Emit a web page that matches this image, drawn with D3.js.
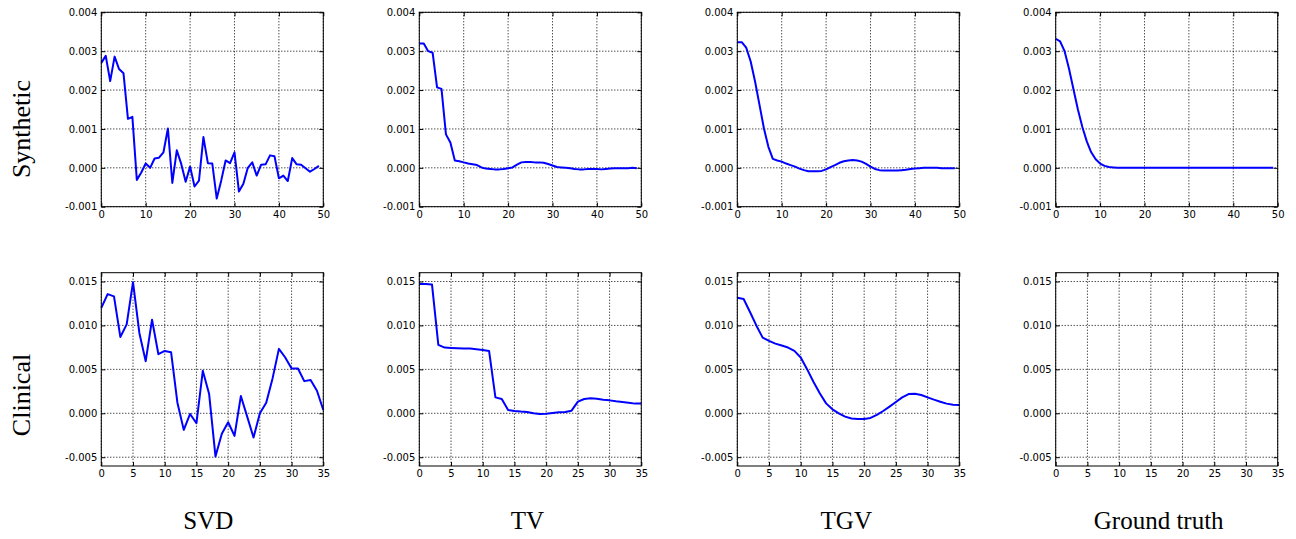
<!DOCTYPE html>
<html>
<head>
<meta charset="utf-8">
<script src="https://cdn.jsdelivr.net/npm/d3@7"></script>
<style>
  body { margin: 0; background: #fff; }
  svg { display: block; }
  .tick text { font-family: "DejaVu Sans", sans-serif; font-size: 10px; fill: #000; }
  .big { font-family: "Liberation Serif", "Times New Roman", serif; fill: #000; }
</style>
</head>
<body>
<div id="chart"></div>
<script>
// values
const methods = ["SVD", "TV", "TGV", "Ground truth"];
const rows = ["Synthetic", "Clinical"];

// synthetic row, x = 0..49, units 1e-3
const synSVD = [2.70, 2.88, 2.23, 2.86, 2.54, 2.43, 1.26, 1.31, -0.31, -0.12,
  0.11, 0.0, 0.24, 0.26, 0.40, 1.01, -0.39, 0.45, 0.10, -0.36,
  0.03, -0.48, -0.33, 0.79, 0.12, 0.11, -0.79, -0.33, 0.19, 0.12,
  0.40, -0.61, -0.41, 0.0, 0.14, -0.20, 0.08, 0.09, 0.32, 0.30,
  -0.27, -0.20, -0.34, 0.25, 0.09, 0.08, -0.01, -0.10, -0.03, 0.05];
const synTV = [3.20, 3.20, 3.00, 2.96, 2.07, 2.03, 0.86, 0.65, 0.19, 0.17,
  0.14, 0.11, 0.09, 0.07, 0.01, -0.02, -0.03, -0.04, -0.04, -0.03,
  -0.01, 0.01, 0.08, 0.14, 0.15, 0.15, 0.14, 0.14, 0.13, 0.10,
  0.06, 0.02, 0.01, 0.0, -0.01, -0.03, -0.04, -0.04, -0.03, -0.03,
  -0.03, -0.04, -0.03, -0.02, -0.01, -0.01, -0.01, -0.01, 0.0, -0.01];
const synTGV = [3.23, 3.23, 3.09, 2.74, 2.22, 1.62, 1.01, 0.54, 0.23, 0.19,
  0.16, 0.11, 0.07, 0.03, -0.02, -0.06, -0.09, -0.09, -0.09, -0.08,
  -0.04, 0.02, 0.07, 0.13, 0.17, 0.19, 0.20, 0.19, 0.16, 0.10,
  0.03, -0.03, -0.06, -0.07, -0.07, -0.07, -0.07, -0.06, -0.05, -0.03,
  -0.02, -0.01, 0.0, 0.0, 0.0, 0.0, -0.01, -0.01, -0.01, -0.01];
const synGT = [3.32, 3.25, 3.00, 2.55, 2.02, 1.50, 1.05, 0.68, 0.40, 0.22,
  0.11, 0.05, 0.02, 0.01, 0, 0, 0, 0, 0, 0,
  0, 0, 0, 0, 0, 0, 0, 0, 0, 0,
  0, 0, 0, 0, 0, 0, 0, 0, 0, 0,
  0, 0, 0, 0, 0, 0, 0, 0, 0, 0];

// clinical row, x = 0..35, units 1e-3
const cliSVD = [12.0, 13.56, 13.3, 8.69, 10.12, 14.92, 9.14, 5.93, 10.65, 6.72,
  7.1, 6.95, 1.21, -1.89, -0.08, -1.13, 4.84, 2.19, -4.91, -2.34,
  -1.02, -2.57, 1.96, -0.38, -2.76, 0.0, 1.21, 3.97, 7.33, 6.35,
  5.1, 5.1, 3.66, 3.78, 2.57, 0.38];
const cliTV = [14.7, 14.7, 14.66, 7.78, 7.48, 7.44, 7.4, 7.37, 7.37, 7.29,
  7.2, 7.1, 1.81, 1.62, 0.38, 0.26, 0.19, 0.15, 0.0, -0.08,
  -0.04, 0.04, 0.11, 0.15, 0.3, 1.32, 1.62, 1.7, 1.66, 1.55,
  1.47, 1.36, 1.28, 1.21, 1.1, 1.1];
const cliTGV = [13.15, 13.0, 11.52, 10.0, 8.61, 8.24, 7.93, 7.71, 7.48, 7.1,
  6.35, 5.02, 3.59, 2.27, 1.13, 0.45, 0.0, -0.38, -0.6, -0.64,
  -0.64, -0.53, -0.19, 0.26, 0.76, 1.28, 1.81, 2.19, 2.23, 2.08,
  1.81, 1.55, 1.32, 1.1, 0.98, 0.94];
const cliGT = [];

const synXTicks = [0, 10, 20, 30, 40, 50];
const synYTicks = [-0.001, 0, 0.001, 0.002, 0.003, 0.004];
const cliXTicks = [0, 5, 10, 15, 20, 25, 30, 35];
const cliYTicks = [-0.005, 0, 0.005, 0.010, 0.015];

const rowSpec = [
  { series: [synSVD, synTV, synTGV, synGT], xDom: [0, 50], yDom: [-0.001, 0.004],
    xTicks: synXTicks, yTicks: synYTicks, top: 12.3, h: 194.4, labelY: 129 },
  { series: [cliSVD, cliTV, cliTGV, cliGT], xDom: [0, 35], yDom: [-0.006, 0.016],
    xTicks: cliXTicks, yTicks: cliYTicks, top: 272.7, h: 193.3, labelY: 395 }
];
const colLeft = [101.3, 419.3, 737.3, 1055.7];
const panelW = 222;
const titleShift = [-4, -3, -2, -8];

const W = 1296, H = 539;
const svg = d3.select("#chart").append("svg").attr("width", W).attr("height", H);

const fmt = d => d3.format(".3f")(d).replace("\u2212", "-");

rowSpec.forEach(function(row, r) {
  row.series.forEach(function(vals, c) {
    const g = svg.append("g")
      .attr("transform", "translate(" + colLeft[c] + "," + row.top + ")");
    const x = d3.scaleLinear().domain(row.xDom).range([0, panelW]);
    const y = d3.scaleLinear().domain(row.yDom).range([row.h, 0]);

    // dotted grid
    g.selectAll(".gx").data(row.xTicks).enter().append("line")
      .attr("x1", d => x(d)).attr("x2", d => x(d))
      .attr("y1", 0).attr("y2", row.h)
      .attr("stroke", "#000").attr("stroke-width", 1)
      .attr("stroke-dasharray", "1,2");
    g.selectAll(".gy").data(row.yTicks).enter().append("line")
      .attr("x1", 0).attr("x2", panelW)
      .attr("y1", d => y(d)).attr("y2", d => y(d))
      .attr("stroke", "#000").attr("stroke-width", 1)
      .attr("stroke-dasharray", "1,2");

    // the curve
    if (vals.length) {
      const line = d3.line()
        .x((d, i) => x(i))
        .y(d => y(d / 1000));
      g.append("path").datum(vals)
        .attr("d", line)
        .attr("fill", "none")
        .attr("stroke", "#0000ff")
        .attr("stroke-width", 2)
        .attr("stroke-linejoin", "round");
    }

    // axes, ticks inward like matplotlib classic
    g.append("g").attr("transform", "translate(0," + row.h + ")")
      .call(d3.axisBottom(x).tickValues(row.xTicks).tickSizeInner(-4).tickSizeOuter(0).tickPadding(4));
    g.append("g")
      .call(d3.axisLeft(y).tickValues(row.yTicks).tickFormat(fmt).tickSizeInner(-4).tickSizeOuter(0).tickPadding(4));
    g.append("g")
      .call(d3.axisTop(x).tickValues(row.xTicks).tickSizeInner(-4).tickSizeOuter(0).tickFormat(""));
    g.append("g").attr("transform", "translate(" + panelW + ",0)")
      .call(d3.axisRight(y).tickValues(row.yTicks).tickSizeInner(-4).tickSizeOuter(0).tickFormat(""));
    g.selectAll(".domain").remove();
    g.selectAll(".tick line").attr("stroke", "#000");

    g.append("rect")
      .attr("width", panelW).attr("height", row.h)
      .attr("fill", "none").attr("stroke", "#000").attr("stroke-width", 1);
  });

  svg.append("text").attr("class", "big")
    .attr("transform", "translate(30," + row.labelY + ") rotate(-90)")
    .attr("text-anchor", "middle")
    .style("font-size", "26px")
    .text(rows[r]);
});

methods.forEach(function(m, c) {
  svg.append("text").attr("class", "big")
    .attr("x", colLeft[c] + panelW / 2 + titleShift[c])
    .attr("y", 529)
    .attr("text-anchor", "middle")
    .style("font-size", "25px")
    .text(m);
});
</script>
</body>
</html>
